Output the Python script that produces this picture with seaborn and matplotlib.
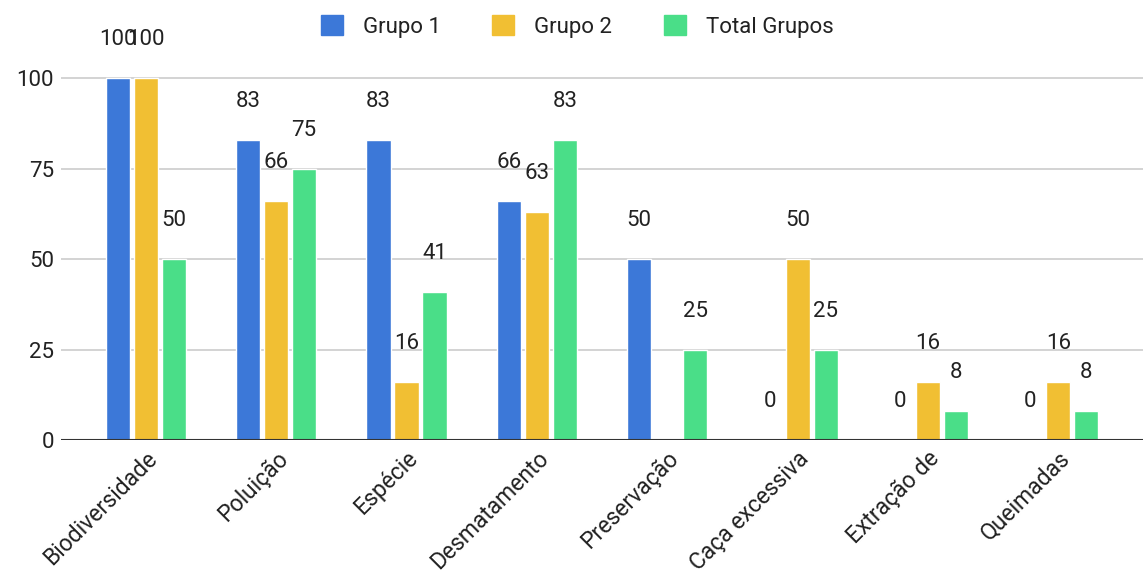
import numpy as np
import pandas as pd
import matplotlib
matplotlib.use("Agg")
import matplotlib.pyplot as plt
import seaborn as sns

# dados
categorias = ["Biodiversidade", "Poluição", "Espécie", "Desmatamento",
              "Preservação", "Caça excessiva", "Extração de", "Queimadas"]
grupo_1 = [100, 83, 83, 66, 50, 0, 0, 0]
grupo_2 = [100, 66, 16, 63, np.nan, 50, 16, 16]
total_grupos = [50, 75, 41, 83, 25, 25, 8, 8]
series = ["Grupo 1", "Grupo 2", "Total Grupos"]
cores = ["#3c78d8", "#f1bf33", "#4ade88"]
y_ticks = [0, 25, 50, 75, 100]

df = pd.DataFrame({"categoria": categorias,
                   "Grupo 1": grupo_1,
                   "Grupo 2": grupo_2,
                   "Total Grupos": total_grupos})
df = df.melt(id_vars="categoria", var_name="serie", value_name="valor")

sns.set_style("white")
plt.rcParams["font.family"] = ["Roboto", "DejaVu Sans"]

fig = plt.figure(figsize=(11.43, 5.81), dpi=100)
ax = fig.add_axes([0.0534, 0.2427, 0.9466, 0.685])

sns.barplot(data=df, x="categoria", y="valor", hue="serie",
            order=categorias, hue_order=series, palette=cores,
            saturation=1, width=0.645, gap=0.14, errorbar=None, ax=ax)

for cont in ax.containers:
    ax.bar_label(cont, fmt="%.0f", padding=20, fontsize=16, color="#222222")

ax.set_xlim(-0.65, 7.65)
ax.set_ylim(0, 110)
ax.set_yticks(y_ticks)
ax.yaxis.grid(True, color="#cccccc", linewidth=1.2)
ax.set_axisbelow(True)
ax.axhline(0, color="#333333", linewidth=1.5)
sns.despine(ax=ax, left=True, bottom=True)
ax.tick_params(axis="both", length=0, labelsize=16, labelcolor="#222222")
ax.tick_params(axis="x", labelsize=16.5, pad=5)
ax.tick_params(axis="y", pad=5)
ax.set_xlabel("")
ax.set_ylabel("")
plt.setp(ax.get_xticklabels(), rotation=45, ha="right", rotation_mode="anchor")

ax.get_legend().remove()
handles = [plt.Rectangle((0, 0), 1, 1, color=c) for c in cores]
fig.legend(handles, series, loc="upper center", bbox_to_anchor=(0.505, 1.008),
           ncol=3, frameon=False, fontsize=16, handlelength=1.0,
           handleheight=1.0, columnspacing=2.3, handletextpad=0.9,
           labelcolor="#222222")

fig.savefig("out.png", dpi=100)
